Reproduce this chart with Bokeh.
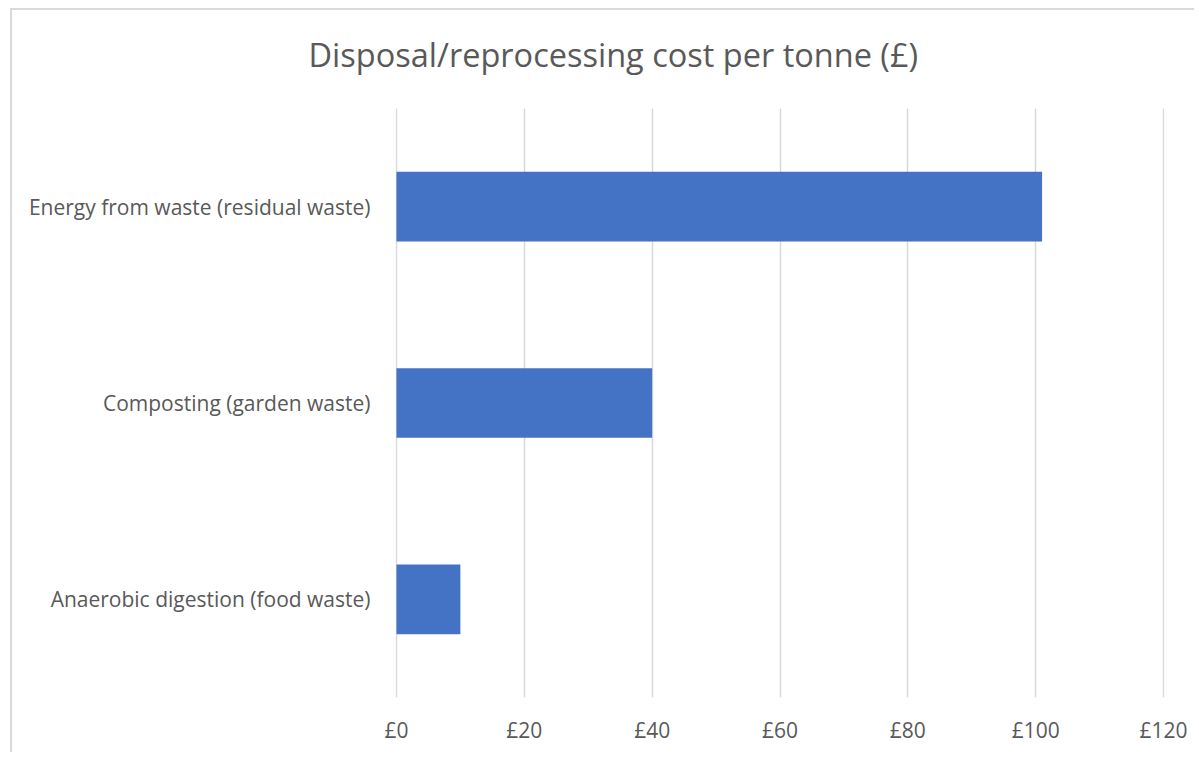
from bokeh.plotting import figure
from bokeh.models import FactorRange, Range1d, Title, FixedTicker
from bokeh.embed import file_html
from bokeh.resources import INLINE

categories = ["Anaerobic digestion (food waste)", "Composting (garden waste)", "Energy from waste (residual waste)"]
costs = [10, 40, 101]
tick_values = [0, 20, 40, 60, 80, 100, 120]
tick_labels = ["£0", "£20", "£40", "£60", "£80", "£100", "£120"]
title_text = "Disposal/reprocessing  cost per tonne (£)"

FONT = "Open Sans"
GRAY = "#595959"

p = figure(width=1184, height=744, output_backend="svg", toolbar_location=None,
           y_range=FactorRange(*categories, range_padding=0),
           x_range=Range1d(-0.15, 120.15),
           min_border_left=383, min_border_right=32, min_border_top=98, min_border_bottom=57)
p.styles = {"border-left": "2px solid #d9d9d9", "border-top": "2px solid #d9d9d9",
            "margin-left": "10px", "margin-top": "8px"}
p.outline_line_color = None

p.hbar(y=categories, right=costs, left=0, height=0.355, color="#4472C4", line_color=None)

p.xaxis.ticker = FixedTicker(ticks=tick_values)
p.xaxis.major_label_overrides = {v: l for v, l in zip(tick_values, tick_labels)}
for ax in (p.xaxis, p.yaxis):
    ax.axis_line_color = None
    ax.major_tick_line_color = None
    ax.minor_tick_line_color = None
    ax.major_tick_out = 0
    ax.major_tick_in = 0
    ax.major_label_text_font = FONT
    ax.major_label_text_color = GRAY
    ax.major_label_text_font_size = "21px"
p.xaxis.major_label_standoff = 18
p.yaxis.major_label_standoff = 25

p.ygrid.grid_line_color = None
p.xgrid.grid_line_color = "#d9d9d9"
p.xgrid.grid_line_width = 1.5

spacer = Title(text=" ", text_font_size="1px", standoff=23)
p.add_layout(spacer, "above")
t = Title(text=title_text, align="left", offset=-87, vertical_align="middle",
          text_font=FONT, text_font_size="32.5px", text_color=GRAY, text_font_style="normal")
p.add_layout(t, "above")

open("out.html", "w").write(file_html(p, INLINE))
